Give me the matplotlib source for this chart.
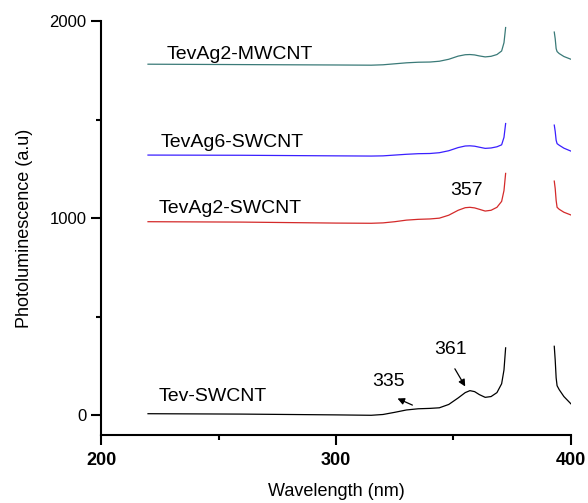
import numpy as np
import matplotlib.pyplot as plt
from matplotlib.ticker import MultipleLocator

plt.rcParams['font.family'] = ['Liberation Sans', 'DejaVu Sans']

# wavelength grid (nan = gap around the excitation line)
wl = [220, 260, 300, 315, 320, 325, 330, 335, 340, 344, 348, 352, 355, 357, 359, 361,
      363.5, 366, 368.5, 370.5, 371.5, 372.2,
      np.nan, 392.9, 393.3, 393.7, 394.1, 395, 397, 400]

tev_swcnt = [8, 6, 2, 0, 4, 15, 27, 33, 35, 38, 55, 88, 115, 125, 120, 105,
             91, 95, 115, 160, 230, 342,
             np.nan, 350, 280, 190, 150, 130, 95, 58]
tevag2_swcnt = [982, 980, 975, 974, 976, 982, 990, 994, 996, 1000, 1015, 1040, 1053, 1055, 1052, 1045,
                1036, 1040, 1055, 1085, 1140, 1227,
                np.nan, 1188, 1150, 1090, 1055, 1045, 1030, 1016]
tevag6_swcnt = [1320, 1319, 1316, 1315, 1316, 1320, 1324, 1327, 1328, 1332, 1342, 1358, 1366, 1367, 1365, 1360,
                1354, 1356, 1362, 1372, 1410, 1480,
                np.nan, 1472, 1440, 1395, 1378, 1370, 1355, 1340]
tevag2_mwcnt = [1781, 1779, 1777, 1776, 1778, 1783, 1788, 1791, 1792, 1796, 1806, 1822, 1829, 1830, 1828, 1823,
                1818, 1821, 1830, 1848, 1890, 1967,
                np.nan, 1944, 1910, 1860, 1845, 1835, 1820, 1806]

series = [
    ("Tev-SWCNT", tev_swcnt, "black", (224.7, 71)),
    ("TevAg2-SWCNT", tevag2_swcnt, "#d42a2a", (224.7, 1025)),
    ("TevAg6-SWCNT", tevag6_swcnt, "#3a1fff", (225.5, 1362)),
    ("TevAg2-MWCNT", tevag2_mwcnt, "#3a7a78", (228, 1805)),
]

fig = plt.figure(figsize=(5.88, 5.03), dpi=100)
ax = fig.add_axes([0.1718, 0.1352, 0.7992, 0.8230])

for name, vals, col, pos in series:
    ax.plot(wl, vals, color=col, lw=0.9)
    ax.text(pos[0], pos[1], name, fontsize=14, ha="left", va="baseline")

ax.text(348.8, 1117, "357", fontsize=14, va="baseline")
ax.text(341.7, 311, "361", fontsize=14, va="baseline")
ax.text(315.6, 150, "335", fontsize=14, va="baseline")
ax.annotate("", xy=(355.6, 134), xytext=(350, 248),
            arrowprops=dict(arrowstyle="-|>", color="black", lw=0.9, mutation_scale=10))
ax.annotate("", xy=(325.1, 91), xytext=(333.6, 46),
            arrowprops=dict(arrowstyle="-|>", color="black", lw=0.9, mutation_scale=10))

ax.set_xlim(200, 400)
ax.set_ylim(-100, 2000)
ax.set_xticks([200, 300, 400])
ax.set_yticks([0, 1000, 2000])
ax.xaxis.set_minor_locator(MultipleLocator(50))
ax.yaxis.set_minor_locator(MultipleLocator(500))
ax.spines["top"].set_visible(False)
ax.spines["right"].set_visible(False)
for s in ["left", "bottom"]:
    ax.spines[s].set_linewidth(1.5)
ax.tick_params(which="major", length=7, width=1.5, labelsize=12)
ax.tick_params(axis="x", labelsize=13, pad=5)
ax.tick_params(which="minor", length=3.5, width=1.5)
for lab in ax.get_xticklabels():
    lab.set_fontweight("bold")

ax.set_xlabel("Wavelength (nm)", fontsize=13, labelpad=10)
ax.set_ylabel("Photoluminescence (a.u)", fontsize=13, labelpad=12)

fig.savefig("out.png", dpi=100)
